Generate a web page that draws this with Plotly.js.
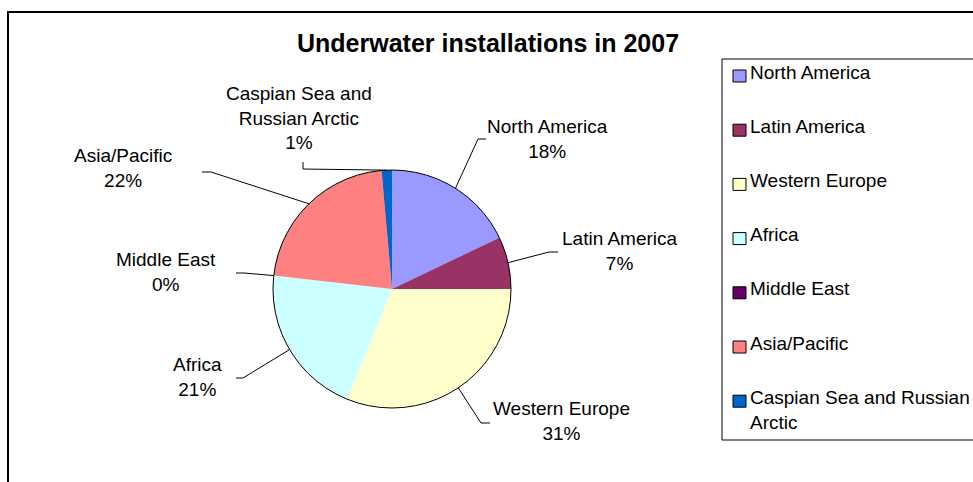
<!DOCTYPE html>
<html>
<head>
<meta charset="utf-8">
<script src="https://cdn.plot.ly/plotly-3.0.1.min.js"></script>
<style>html,body{margin:0;padding:0;background:#fff;}#chart{width:973px;height:482px;}</style>
</head>
<body>
<div id="chart"></div>
<script>
// ---- data ----
const labels = ['North America', 'Latin America', 'Western Europe', 'Africa', 'Middle East', 'Asia/Pacific', 'Caspian Sea and Russian Arctic'];
const shares = [17.9, 7.1, 31.2, 20.6, 0, 21.8, 1.4];
const colors = ['#9999FF', '#993366', '#FFFFCC', '#CCFFFF', '#660066', '#FF8080', '#0066CC'];
const chartTitle = 'Underwater installations in 2007';

// ---- layout positions (pixels) ----
const W = 973, H = 482;
const cx = 392, cy = 289, R = 119;
const labelCenter = [[547, 138.5], [620, 251], [561, 420.5], [197, 376.5], [165.5, 271.5], [123, 168], [299, 118]];
const elbow = [[478, 139], [549, 252], [481, 423], [243, 378], [244, 273], [211, 172], [303, 169]];
const lineEnd = [[486, 139], [558, 252], [490, 423], [236, 378], [236, 273], [202, 172], [303, 162]];
const FONT = 'Liberation Sans, Arial, sans-serif';
const FS = 19, LH = 24.7;

const px = x => x / W;
const py = y => 1 - y / H;

function wrap(text, maxChars) {
  const words = text.split(' ');
  const lines = [];
  let cur = '';
  words.forEach(w => {
    if (cur && (cur + ' ' + w).length > maxChars) { lines.push(cur); cur = w; }
    else cur = cur ? cur + ' ' + w : w;
  });
  if (cur) lines.push(cur);
  return lines;
}

const total = shares.reduce((a, b) => a + b, 0);
const domain = {x: [px(cx - R), px(cx + R)], y: [py(cy + R), py(cy - R)]};

const pie = {
  type: 'pie', labels: labels, values: shares, sort: false, direction: 'clockwise', rotation: 0,
  marker: {colors: colors, line: {width: 0}}, textinfo: 'none', textposition: 'none',
  hoverinfo: 'label+percent', showlegend: false, domain: domain
};
const outline = {
  type: 'pie', labels: ['outline'], values: [1], sort: false,
  marker: {colors: ['rgba(0,0,0,0)'], line: {width: 1, color: '#000'}}, textinfo: 'none', textposition: 'none',
  hoverinfo: 'skip', showlegend: false, domain: domain
};

const shapes = [];
const annotations = [];

// outer frame
shapes.push({type: 'rect', xref: 'paper', yref: 'paper', x0: px(8), x1: px(995), y0: py(12), y1: py(500),
  line: {color: '#000', width: 2}});

// labels with leader lines
let cum = 0;
shares.forEach((v, i) => {
  const ang = 2 * Math.PI * (cum + v / 2) / total;
  cum += v;
  const ex = cx + R * Math.sin(ang), ey = cy - R * Math.cos(ang);
  shapes.push({type: 'path', xref: 'paper', yref: 'paper',
    path: `M ${px(ex)},${py(ey)} L ${px(elbow[i][0])},${py(elbow[i][1])} L ${px(lineEnd[i][0])},${py(lineEnd[i][1])}`,
    line: {color: '#000', width: 1}});
  const pct = Math.round(v / total * 100) + '%';
  const txt = wrap(labels[i], 15).concat([pct]).join('<br>');
  annotations.push({xref: 'paper', yref: 'paper', x: px(labelCenter[i][0]), y: py(labelCenter[i][1]),
    xanchor: 'center', yanchor: 'middle', showarrow: false, align: 'center', text: txt,
    font: {family: FONT, size: FS, color: '#000'}});
});

// legend box
shapes.push({type: 'rect', xref: 'paper', yref: 'paper', x0: px(722), x1: px(995), y0: py(59), y1: py(440),
  line: {color: '#000', width: 1}, fillcolor: 'rgba(0,0,0,0)'});
const legTop = 72, legStep = 54.2;
labels.forEach((lab, i) => {
  const yc = legTop + i * legStep;
  shapes.push({type: 'rect', xref: 'paper', yref: 'paper', x0: px(733), x1: px(746), y0: py(yc - 2), y1: py(yc + 10),
    fillcolor: colors[i], line: {color: '#000', width: 1}});
  const lines = wrap(lab, 23);
  annotations.push({xref: 'paper', yref: 'paper', x: px(748), y: py(yc + (lines.length - 1) * LH / 2),
    xanchor: 'left', yanchor: 'middle', showarrow: false, align: 'left', text: lines.join('<br>'),
    font: {family: FONT, size: FS, color: '#000'}});
});

// title
annotations.push({xref: 'paper', yref: 'paper', x: px(488), y: py(43), xanchor: 'center', yanchor: 'middle',
  showarrow: false, text: '<b>' + chartTitle + '</b>', font: {family: FONT, size: 25, color: '#000'}});

const layout = {
  width: W, height: H, margin: {l: 0, r: 0, t: 0, b: 0},
  paper_bgcolor: '#fff', plot_bgcolor: '#fff', showlegend: false,
  shapes: shapes, annotations: annotations
};

Plotly.newPlot('chart', [pie, outline], layout, {displayModeBar: false, staticPlot: true});
</script>
</body>
</html>
